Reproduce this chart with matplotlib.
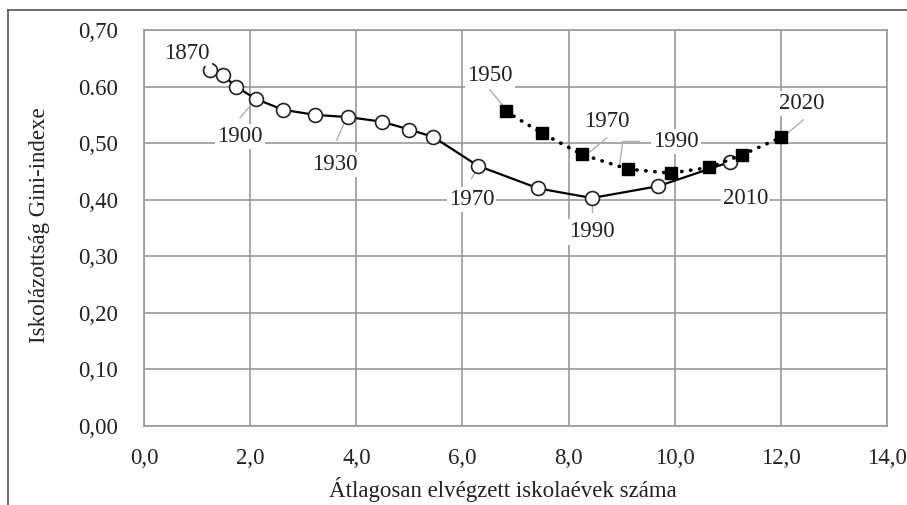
import matplotlib.pyplot as plt
from matplotlib.lines import Line2D

plt.rcParams['font.family'] = ['Liberation Serif', 'DejaVu Serif']

# historical series (circles)
x_hist = [1.24, 1.49, 1.73, 2.11, 2.62, 3.22, 3.85, 4.48, 5.00, 5.45, 6.29, 7.43, 8.44, 9.69, 11.05]
y_hist = [0.630, 0.620, 0.600, 0.578, 0.559, 0.550, 0.546, 0.538, 0.524, 0.511, 0.460, 0.420, 0.403, 0.424, 0.467]

# second series (squares)
x_sq = [6.82, 7.49, 8.25, 9.12, 9.92, 10.65, 11.26, 12.00]
y_sq = [0.556, 0.518, 0.480, 0.454, 0.447, 0.457, 0.479, 0.510]

xticks = [0, 2, 4, 6, 8, 10, 12, 14]
xticklabels = ['0,0', '2,0', '4,0', '6,0', '8,0', '10,0', '12,0', '14,0']
yticks = [0, 0.1, 0.2, 0.3, 0.4, 0.5, 0.6, 0.7]
yticklabels = ['0,00', '0,10', '0,20', '0,30', '0,40', '0,50', '0.60', '0,70']

# year labels: text, label position, leader points (None = no leader)
hist_labels = [
    ('1870', (0.81, 0.659), None),
    ('1900', (1.81, 0.511), [(1.81, 0.545), (2.0, 0.566)]),
    ('1930', (3.60, 0.463), [(3.63, 0.505), (3.78, 0.538)]),
    ('1970', (6.17, 0.401), [(6.17, 0.437), (6.26, 0.452)]),
    ('1990', (8.44, 0.343), [(8.44, 0.379), (8.44, 0.393)]),
    ('2010', (11.33, 0.402), None),
]
sq_labels = [
    ('1950', (6.52, 0.620), [(6.52, 0.594), (6.80, 0.562)]),
    ('1970', (8.72, 0.538), [(8.72, 0.509), (8.34, 0.480)]),
    ('1990', (10.02, 0.503), [(9.34, 0.503), (9.02, 0.503), (8.96, 0.460)]),
    ('2020', (12.39, 0.570), [(12.42, 0.541), (12.04, 0.511)]),
]

FS = 16.5
TXT = '#222222'

fig = plt.figure(figsize=(9.07, 5.05), dpi=100)
ax = fig.add_axes([0.1588, 0.1564, 0.8192, 0.7842])

ax.plot(x_hist, y_hist, color='black', lw=1.6, zorder=3,
        marker='o', markersize=10, markerfacecolor='white', markeredgecolor='#222222', markeredgewidth=1.2)
ax.plot(x_sq, y_sq, color='black', lw=2.6, linestyle=(0, (0.1, 2.4)), dash_capstyle='round', zorder=4)
ax.plot(x_sq, y_sq, linestyle='none', marker='s', markersize=9, color='black', zorder=5)

for txt, pos, lead in hist_labels + sq_labels:
    if lead is not None:
        ax.plot([p[0] for p in lead], [p[1] for p in lead], color='#b0b0b0', lw=1.0, zorder=2)
    ax.text(pos[0], pos[1], txt, ha='center', va='center', fontsize=FS, color=TXT, zorder=6,
            bbox=dict(facecolor='white', edgecolor='none', pad=1.5))

ax.set_xlim(0, 14)
ax.set_ylim(0, 0.7)
ax.set_xticks(xticks)
ax.set_xticklabels(xticklabels)
ax.set_yticks(yticks)
ax.set_yticklabels(yticklabels)
ax.tick_params(length=0, labelsize=FS, colors=TXT)
ax.tick_params(axis='x', pad=15.5)
ax.tick_params(axis='y', pad=19)
ax.grid(True, color='#999999', lw=1.2)
ax.set_axisbelow(True)
for s in ax.spines.values():
    s.set_color('#999999')
    s.set_linewidth(1.2)

fig.text(503 / 907, 1 - 490 / 505, 'Átlagosan elvégzett iskolaévek száma', ha='center', va='center',
         fontsize=FS, color=TXT)
fig.text(40 / 907, 1 - 225 / 505, 'Iskolázottság Gini-indexe', ha='center', va='center', rotation=90,
         fontsize=FS, color=TXT)

# outer frame (top and left only)
fig.add_artist(Line2D([8 / 907, 8 / 907], [0, 1 - 10 / 505], color='#555555', lw=1.2))
fig.add_artist(Line2D([8 / 907, 1], [1 - 10 / 505, 1 - 10 / 505], color='#555555', lw=1.2))

fig.savefig('out.png', dpi=100)
